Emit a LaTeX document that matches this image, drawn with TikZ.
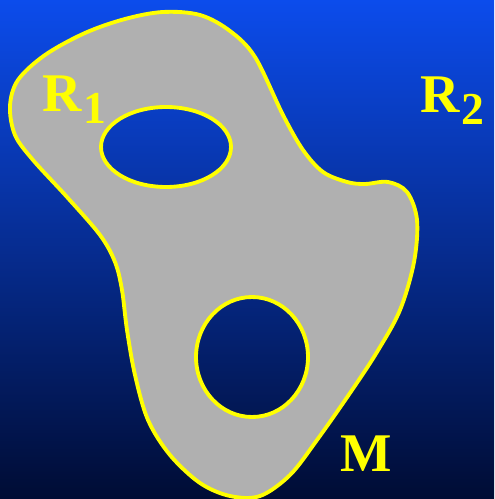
\documentclass[tikz,border=0pt]{standalone}
\usepackage{fontspec}
\setmainfont{Liberation Serif}
\usepackage{tikz}

\definecolor{bgtop}{RGB}{12,76,236}
\definecolor{bgmid}{RGB}{3,52,175}
\definecolor{bgbot}{RGB}{0,12,52}
\definecolor{sheet}{RGB}{176,176,176}
\definecolor{rim}{RGB}{255,255,0}

\newcommand{\regname}[2]{#1\kern1pt\raisebox{-6.5pt}{\fontsize{26}{26}\selectfont #2}}

\begin{document}
\begin{tikzpicture}[x=0.02cm, y=-0.02cm, thick]
        \tikzset{
          rimline/.style={draw=rim, line width=2.2pt},
          lbl/.style={text=rim, inner sep=0pt, anchor=base west,
                      font=\fontsize{31}{31}\selectfont\bfseries}
        }
        % Background
        \shade[top color=bgtop, middle color=bgmid, bottom color=bgbot]
          (0,0) rectangle (494,499);
        \useasboundingbox (0,0) rectangle (494,499);

        % Centers of the two holes
        \coordinate (hole_up) at (166,147);
        \coordinate (hole_dn) at (252,357);

        % Manifold with holes (even odd lets the background through)
        \fill[sheet, even odd rule]
          plot[smooth cycle, tension=0.55] coordinates {
            (163,12) (200,15) (230,31) (255,57) (283,115) (303,150)
            (323,172) (347,182) (365,184) (388,182) (407,192) (417,220)
            (414,262) (400,310) (377,352) (350,393) (317,440) (290,475)
            (260,496) (230,496) (200,483) (170,455) (148,420) (135,375)
            (127,330) (122,290) (115,262) (100,235) (67,197) (33,160)
            (15,135) (10,106) (18,80) (45,55) (85,33) (125,19)}
          (hole_up) ellipse [x radius=65, y radius=40]
          (hole_dn) ellipse [x radius=56, y radius=60];

        % Yellow boundaries
        \draw[rimline]
          plot[smooth cycle, tension=0.55] coordinates {
            (163,12) (200,15) (230,31) (255,57) (283,115) (303,150)
            (323,172) (347,182) (365,184) (388,182) (407,192) (417,220)
            (414,262) (400,310) (377,352) (350,393) (317,440) (290,475)
            (260,496) (230,496) (200,483) (170,455) (148,420) (135,375)
            (127,330) (122,290) (115,262) (100,235) (67,197) (33,160)
            (15,135) (10,106) (18,80) (45,55) (85,33) (125,19)};
        \draw[rimline] (hole_up) ellipse [x radius=65, y radius=40];
        \draw[rimline] (hole_dn) ellipse [x radius=56, y radius=60];

        % Labels
        \node[lbl] (r_one) at (42,112) {\regname{R}{1}};
        \node[lbl] (r_two) at (420,113) {\regname{R}{2}};
        \node[lbl] (m_lbl) at (340,471) {M};
      \end{tikzpicture}
\end{document}
